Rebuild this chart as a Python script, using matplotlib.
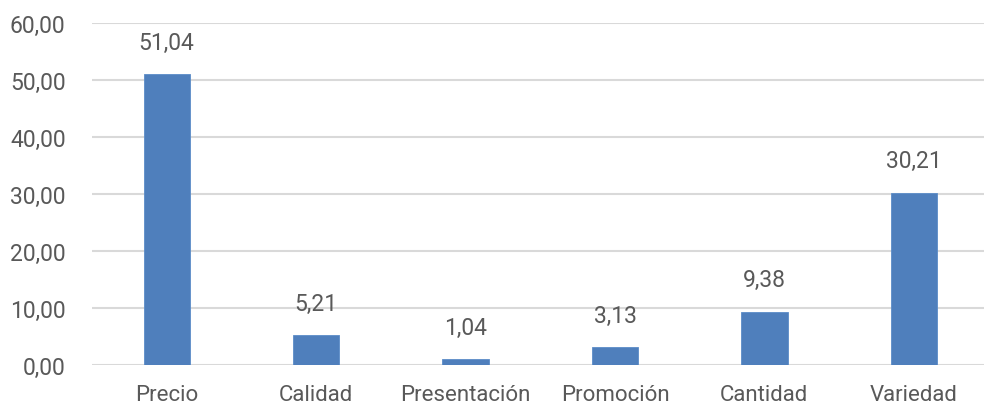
import matplotlib.pyplot as plt
from matplotlib import font_manager

# Datos del gráfico
categorias = ['Precio', 'Calidad', 'Presentación', 'Promoción', 'Cantidad', 'Variedad']
valores = [51.04, 5.21, 1.04, 3.13, 9.38, 30.21]
ticks_y = [0, 10, 20, 30, 40, 50, 60]

# Fuente: la más estrecha disponible
nombres = {f.name for f in font_manager.fontManager.ttflist}
fuente = 'Liberation Sans Narrow' if 'Liberation Sans Narrow' in nombres else 'Roboto'
plt.rcParams['font.family'] = [fuente, 'DejaVu Sans']

gris = '#595959'
azul = '#4F7FBC'

fig = plt.figure(figsize=(9.84, 4.10), dpi=100)
ax = fig.add_axes([92 / 984, 44 / 410, 892 / 984, 342 / 410])

x = list(range(len(categorias)))
ax.bar(x, valores, width=0.31, color=azul, edgecolor='#5B8CC8', linewidth=0.6, zorder=3)

for xi, v in zip(x, valores):
    ax.annotate(f'{v:.2f}'.replace('.', ','), (xi, v), xytext=(0, 23),
                textcoords='offset points', ha='center', va='center',
                fontsize=16.5, color=gris)

ax.set_ylim(0, 60)
ax.set_xlim(-0.5, 5.47)
ax.set_yticks(ticks_y)
ax.set_yticklabels([f'{t:.2f}'.replace('.', ',') for t in ticks_y])
ax.set_xticks(x)
ax.set_xticklabels(categorias)

ax.grid(axis='y', color='#D9D9D9', linewidth=1.5, zorder=0)
for s in ax.spines.values():
    s.set_visible(False)
ax.tick_params(axis='both', length=0, labelsize=16, labelcolor=gris)
ax.tick_params(axis='y', pad=19, labelsize=16.5)
ax.tick_params(axis='x', pad=14)

fig.savefig('out.png', dpi=100)
